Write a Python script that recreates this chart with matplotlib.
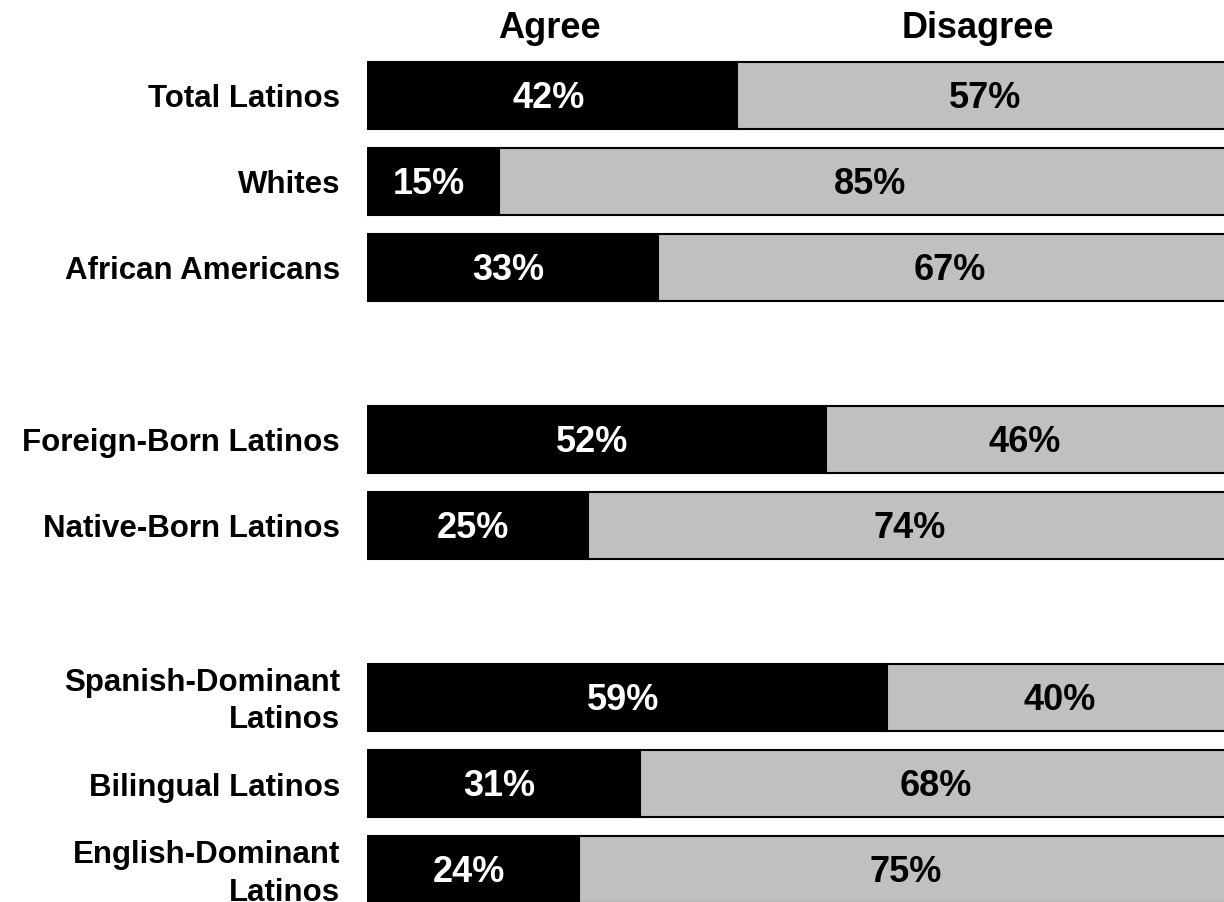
import matplotlib
matplotlib.use("Agg")
import matplotlib.pyplot as plt
from matplotlib.transforms import ScaledTranslation, blended_transform_factory

categories = ["Total Latinos", "Whites", "African Americans",
              "Foreign-Born Latinos", "Native-Born Latinos",
              "Spanish-Dominant\nLatinos", "Bilingual Latinos",
              "English-Dominant\nLatinos"]
positions = [0, 1, 2, 4, 5, 7, 8, 9]
agree = [42, 15, 33, 52, 25, 59, 31, 24]
disagree = [57, 85, 67, 46, 74, 40, 68, 75]
headers = ["Agree", "Disagree"]

plt.rcParams['font.family'] = ['Liberation Sans', 'DejaVu Sans']

fig = plt.figure(figsize=(12.24, 9.03), dpi=100)
W, H = 1224, 903
x0 = 367
pxper = 8.82
row = 86.1
y0 = 96
ax = fig.add_axes([x0 / W, 0, 1 - x0 / W, 1])
ax.set_xlim(0, (W - x0) / pxper)
ax.set_ylim((H - y0) / row, -y0 / row)

bh = 67 / row
ax.barh(positions, agree, height=bh, color="black", edgecolor="black", linewidth=1.5)
ax.barh(positions, disagree, left=agree, height=bh, color="#C0C0C0",
        edgecolor="black", linewidth=1.5)

vtr = ax.transData + ScaledTranslation(-4 / 100, -2 / 100, fig.dpi_scale_trans)
for p, a, d in zip(positions, agree, disagree):
    ax.text(a / 2, p, f"{a}%", color="white", ha="center", va="center",
            fontsize=26, fontweight="bold", transform=vtr)
    ax.text(a + d / 2, p, f"{d}%", color="black", ha="center", va="center",
            fontsize=26, fontweight="bold", transform=vtr)

# category labels
base = blended_transform_factory(ax.transAxes, ax.transData)
tr = base + ScaledTranslation(-27 / 100, -3 / 100, fig.dpi_scale_trans)
for p, lab in zip(positions, categories):
    ax.text(0, p, lab, transform=tr, ha="right", va="center", multialignment="right",
            fontsize=22.5, fontweight="bold", linespacing=1.33, clip_on=False)

ax.set_yticks([])
ax.set_xticks([])
for s in ax.spines.values():
    s.set_visible(False)

fig.text(549 / W, 1 - 28 / H, headers[0], ha="center", va="center",
         fontsize=26, fontweight="bold")
fig.text(978 / W, 1 - 28 / H, headers[1], ha="center", va="center",
         fontsize=26, fontweight="bold")

fig.savefig("out.png", dpi=100)
